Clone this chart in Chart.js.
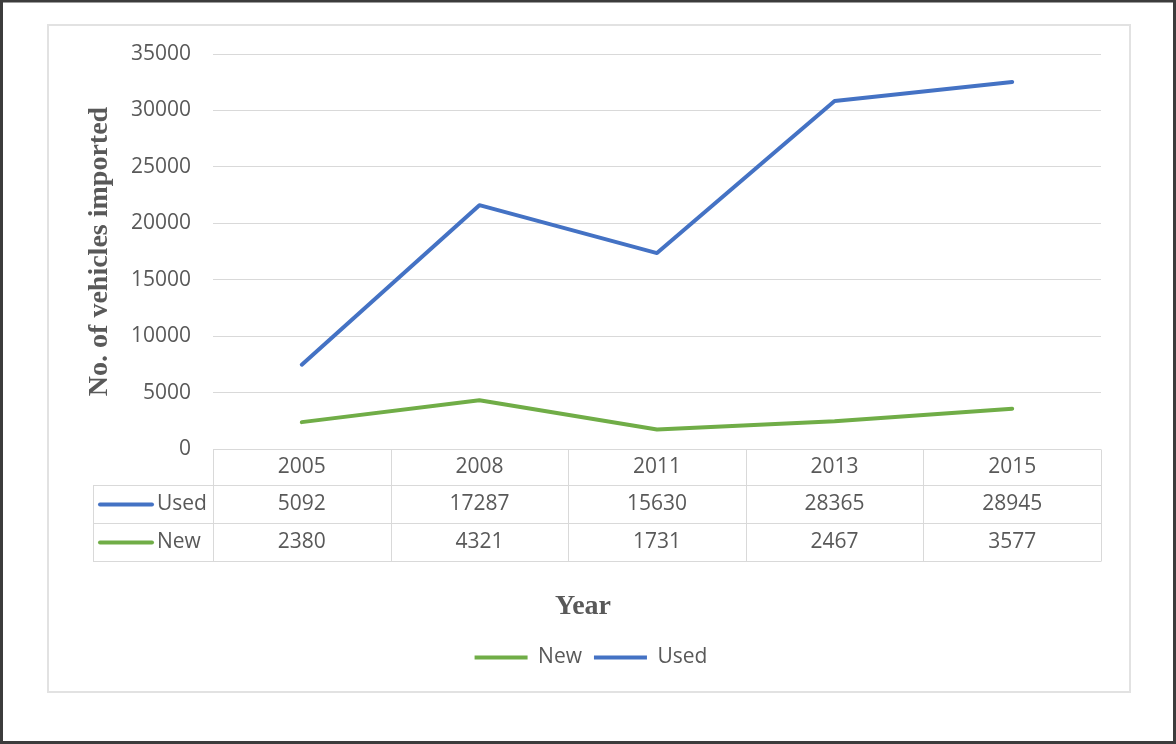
<!DOCTYPE html>
<html>
<head>
<meta charset="utf-8">
<script src="https://cdn.jsdelivr.net/npm/chart.js@4.4.1/dist/chart.umd.min.js"></script>
<style>
  body { margin: 0; background: #fff; }
  canvas { display: block; }
</style>
</head>
<body>
<canvas id="chart" width="1176" height="744"></canvas>
<script>
var years = ['2005', '2008', '2011', '2013', '2015'];
var usedVehicles = [5092, 17287, 15630, 28365, 28945];
var newVehicles = [2380, 4321, 1731, 2467, 3577];
var yTickValues = [0, 5000, 10000, 15000, 20000, 25000, 30000, 35000];

var blue = '#4472C4';
var green = '#70AD47';
var textGrey = '#595959';
var lineGrey = '#d9d9d9';
var sans = 'Open Sans';
var serif = 'Liberation Serif';

// frame around the picture and the chart
var frames = {
    id: 'frames',
    beforeDraw(chart) {
        var ctx = chart.ctx;
        ctx.save();
        ctx.fillStyle = '#fff';
        ctx.fillRect(0, 0, chart.width, chart.height);
        ctx.strokeStyle = '#3c3c3c';
        ctx.lineWidth = 3;
        ctx.strokeRect(1.5, 1, chart.width - 3, chart.height - 2.5);
        ctx.strokeStyle = '#e2e2e2';
        ctx.lineWidth = 2;
        ctx.strokeRect(48, 25, 1082, 667);
        ctx.restore();
    }
};

// data table under the plot, columns follow the x scale
var dataTable = {
    id: 'dataTable',
    afterDraw(chart) {
        var ctx = chart.ctx;
        var xs = chart.scales.x;
        var area = chart.chartArea;
        var colW = (area.right - area.left) / years.length;
        var keyLeft = 93;
        var y0 = Math.round(area.bottom) + 0.5;
        var y1 = y0 + 36, y2 = y1 + 38, y3 = y2 + 38;
        var rows = [
            { name: 'Used', color: blue, vals: usedVehicles },
            { name: 'New', color: green, vals: newVehicles }
        ];

        ctx.save();
        ctx.strokeStyle = lineGrey;
        ctx.lineWidth = 1;
        ctx.beginPath();
        ctx.moveTo(area.left, y0); ctx.lineTo(area.right, y0);
        [y1, y2, y3].forEach(function(y) {
            ctx.moveTo(keyLeft, y); ctx.lineTo(area.right, y);
        });
        for (var i = 0; i <= years.length; i++) {
            var vx = Math.round(area.left + i * colW) + 0.5;
            ctx.moveTo(vx, y0); ctx.lineTo(vx, y3);
        }
        ctx.moveTo(keyLeft + 0.5, y1); ctx.lineTo(keyLeft + 0.5, y3);
        ctx.stroke();

        ctx.font = '21px "' + sans + '"';
        ctx.fillStyle = textGrey;
        ctx.textAlign = 'center';
        ctx.textBaseline = 'middle';
        years.forEach(function(y, i) {
            ctx.fillText(y, xs.getPixelForValue(i), (y0 + y1) / 2);
        });

        rows.forEach(function(r, k) {
            var top = k === 0 ? y1 : y2;
            var cy = top + 19;
            ctx.fillStyle = textGrey;
            ctx.textAlign = 'center';
            r.vals.forEach(function(v, i) {
                ctx.fillText(String(v), xs.getPixelForValue(i), cy);
            });
            ctx.textAlign = 'left';
            ctx.fillText(r.name, 157, cy);
            ctx.strokeStyle = r.color;
            ctx.lineWidth = 4;
            ctx.lineCap = 'round';
            ctx.beginPath();
            ctx.moveTo(100, cy); ctx.lineTo(152, cy);
            ctx.stroke();
        });

        // x axis title sits centred on the whole chart box, not the plot
        ctx.font = 'bold 28px "' + serif + '"';
        ctx.fillStyle = textGrey;
        ctx.textAlign = 'center';
        ctx.fillText('Year', 583, 607);
        ctx.restore();
    }
};

new Chart(document.getElementById('chart'), {
    type: 'line',
    data: {
        labels: years,
        datasets: [
            {
                label: 'New',
                data: newVehicles,
                borderColor: green,
                backgroundColor: green,
                borderWidth: 4,
                pointRadius: 0,
                tension: 0,
                borderCapStyle: 'round',
                borderJoinStyle: 'round',
                fill: false
            },
            {
                label: 'Used',
                data: usedVehicles,
                borderColor: blue,
                backgroundColor: blue,
                borderWidth: 4,
                pointRadius: 0,
                tension: 0,
                borderCapStyle: 'round',
                borderJoinStyle: 'round',
                fill: false
            }
        ]
    },
    options: {
        responsive: false,
        animation: false,
        layout: { padding: { left: 81, right: 75, top: 54, bottom: 66 } },
        plugins: {
            tooltip: { enabled: false },
            legend: {
                position: 'bottom',
                labels: {
                    color: textGrey,
                    font: { family: sans, size: 21 },
                    boxWidth: 53,
                    boxHeight: 4,
                    padding: 12,
                    generateLabels(chart) {
                        return chart.data.datasets.map(function(d, i) {
                            return {
                                text: d.label,
                                fillStyle: d.borderColor,
                                strokeStyle: d.borderColor,
                                lineWidth: 0,
                                hidden: false,
                                datasetIndex: i,
                                fontColor: textGrey
                            };
                        });
                    }
                }
            }
        },
        scales: {
            x: {
                offset: true,
                grid: { display: false },
                border: { display: false },
                ticks: { display: false },
                afterFit(s) {
                    s.height = 186;
                    s.paddingLeft = 0;
                    s.paddingRight = 0;
                }
            },
            y: {
                stacked: true,
                min: 0,
                max: 35000,
                afterBuildTicks(s) {
                    s.ticks = yTickValues.map(function(v) { return { value: v }; });
                },
                grid: { color: lineGrey, lineWidth: 1, drawTicks: false },
                border: { display: false },
                ticks: {
                    color: textGrey,
                    font: { family: sans, size: 21 },
                    padding: 22,
                    callback: function(v) { return String(v); }
                },
                title: {
                    display: true,
                    text: 'No. of vehicles imported',
                    color: textGrey,
                    font: { family: serif, size: 28, weight: 'bold' },
                    padding: { top: 2, bottom: 0 }
                },
                afterFit(s) {
                    s.width = 132;
                    s.paddingTop = 0;
                    s.paddingBottom = 0;
                }
            }
        }
    },
    plugins: [frames, dataTable]
});
</script>
</body>
</html>
